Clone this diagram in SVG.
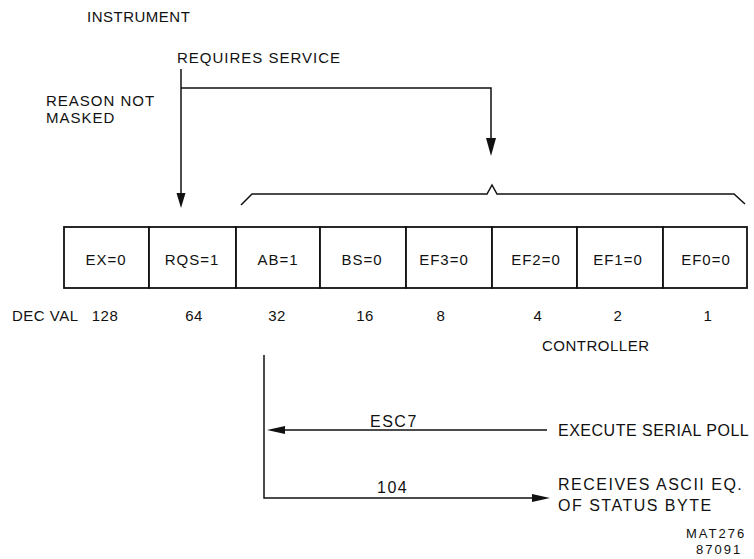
<svg xmlns="http://www.w3.org/2000/svg" width="754" height="559" viewBox="0 0 754 559">
<defs>
<style>
text{font-family:"Liberation Sans","DejaVu Sans",sans-serif;font-size:15px;letter-spacing:0.5px;fill:#111}
.c{text-anchor:middle}
.cell{letter-spacing:1px}
.big{font-size:16px;letter-spacing:1.5px}
.tag{font-size:13px;letter-spacing:2px}
.ln{fill:none;stroke:#111;stroke-width:1.5}
.bx{fill:#fff;stroke:#111;stroke-width:1.8}
.ah{fill:#111;stroke:none}
</style>
</defs>
<rect width="754" height="559" fill="#fff"/>
<g id="labels">
<text x="87" y="22">INSTRUMENT</text>
<text x="177" y="63" style="letter-spacing:1px">REQUIRES SERVICE</text>
<text x="46" y="106" style="letter-spacing:1px">REASON NOT</text>
<text x="46" y="123" style="letter-spacing:1px">MASKED</text>
<text x="542" y="351">CONTROLLER</text>
<text x="12" y="321">DEC VAL</text>
<text class="c" x="105" y="321">128</text>
<text class="c" x="194" y="321">64</text>
<text class="c" x="277" y="321">32</text>
<text class="c" x="365" y="321">16</text>
<text class="c" x="441" y="321">8</text>
<text class="c" x="538" y="321">4</text>
<text class="c" x="618" y="321">2</text>
<text class="c" x="708" y="321">1</text>
<text class="tag" x="686" y="538">MAT276</text>
<text class="tag" x="696" y="554">87091</text>
</g>
<g id="status-byte">
<g id="bit7"><rect class="bx" x="64" y="227" width="85" height="61"/><text class="c cell" x="106" y="265">EX=0</text></g>
<g id="bit6"><rect class="bx" x="149" y="227" width="87" height="61"/><text class="c cell" x="192" y="265">RQS=1</text></g>
<g id="bit5"><rect class="bx" x="236" y="227" width="84" height="61"/><text class="c cell" x="278" y="265">AB=1</text></g>
<g id="bit4"><rect class="bx" x="320" y="227" width="86" height="61"/><text class="c cell" x="362" y="265">BS=0</text></g>
<g id="bit3"><rect class="bx" x="406" y="227" width="86" height="61"/><text class="c cell" x="444" y="265">EF3=0</text></g>
<g id="bit2"><rect class="bx" x="492" y="227" width="85" height="61"/><text class="c cell" x="536" y="265">EF2=0</text></g>
<g id="bit1"><rect class="bx" x="577" y="227" width="86" height="61"/><text class="c cell" x="618" y="265">EF1=0</text></g>
<g id="bit0"><rect class="bx" x="663" y="227" width="84" height="61"/><text class="c cell" x="706" y="265">EF0=0</text></g>
</g>
<g id="connectors">
<polyline class="ln" points="181,69 181,196"/>
<polygon class="ah" points="176.5,193 185.5,193 181,208"/>
<polyline class="ln" points="181,88 491,88 491,141"/>
<polygon class="ah" points="486,138 496,138 491,156"/>
<polyline class="ln" points="241,205 252,194 487,194 492,185 497,194 734,194 745,204"/>
<polyline class="ln" points="264,355 264,498 536,498"/>
<polygon class="ah" points="532,494 550,498 532,502"/>
<line class="ln" x1="547" y1="430" x2="282" y2="430"/>
<polygon class="ah" points="285,426 267,430 285,434"/>
<text class="big" x="370" y="427">ESC7</text>
<text class="big" x="377" y="493">104</text>
<text class="big" x="558" y="436" style="letter-spacing:0.5px">EXECUTE SERIAL POLL</text>
<text class="big" x="558" y="490">RECEIVES ASCII EQ.</text>
<text class="big" x="558" y="511">OF STATUS BYTE</text>
</g>
</svg>
